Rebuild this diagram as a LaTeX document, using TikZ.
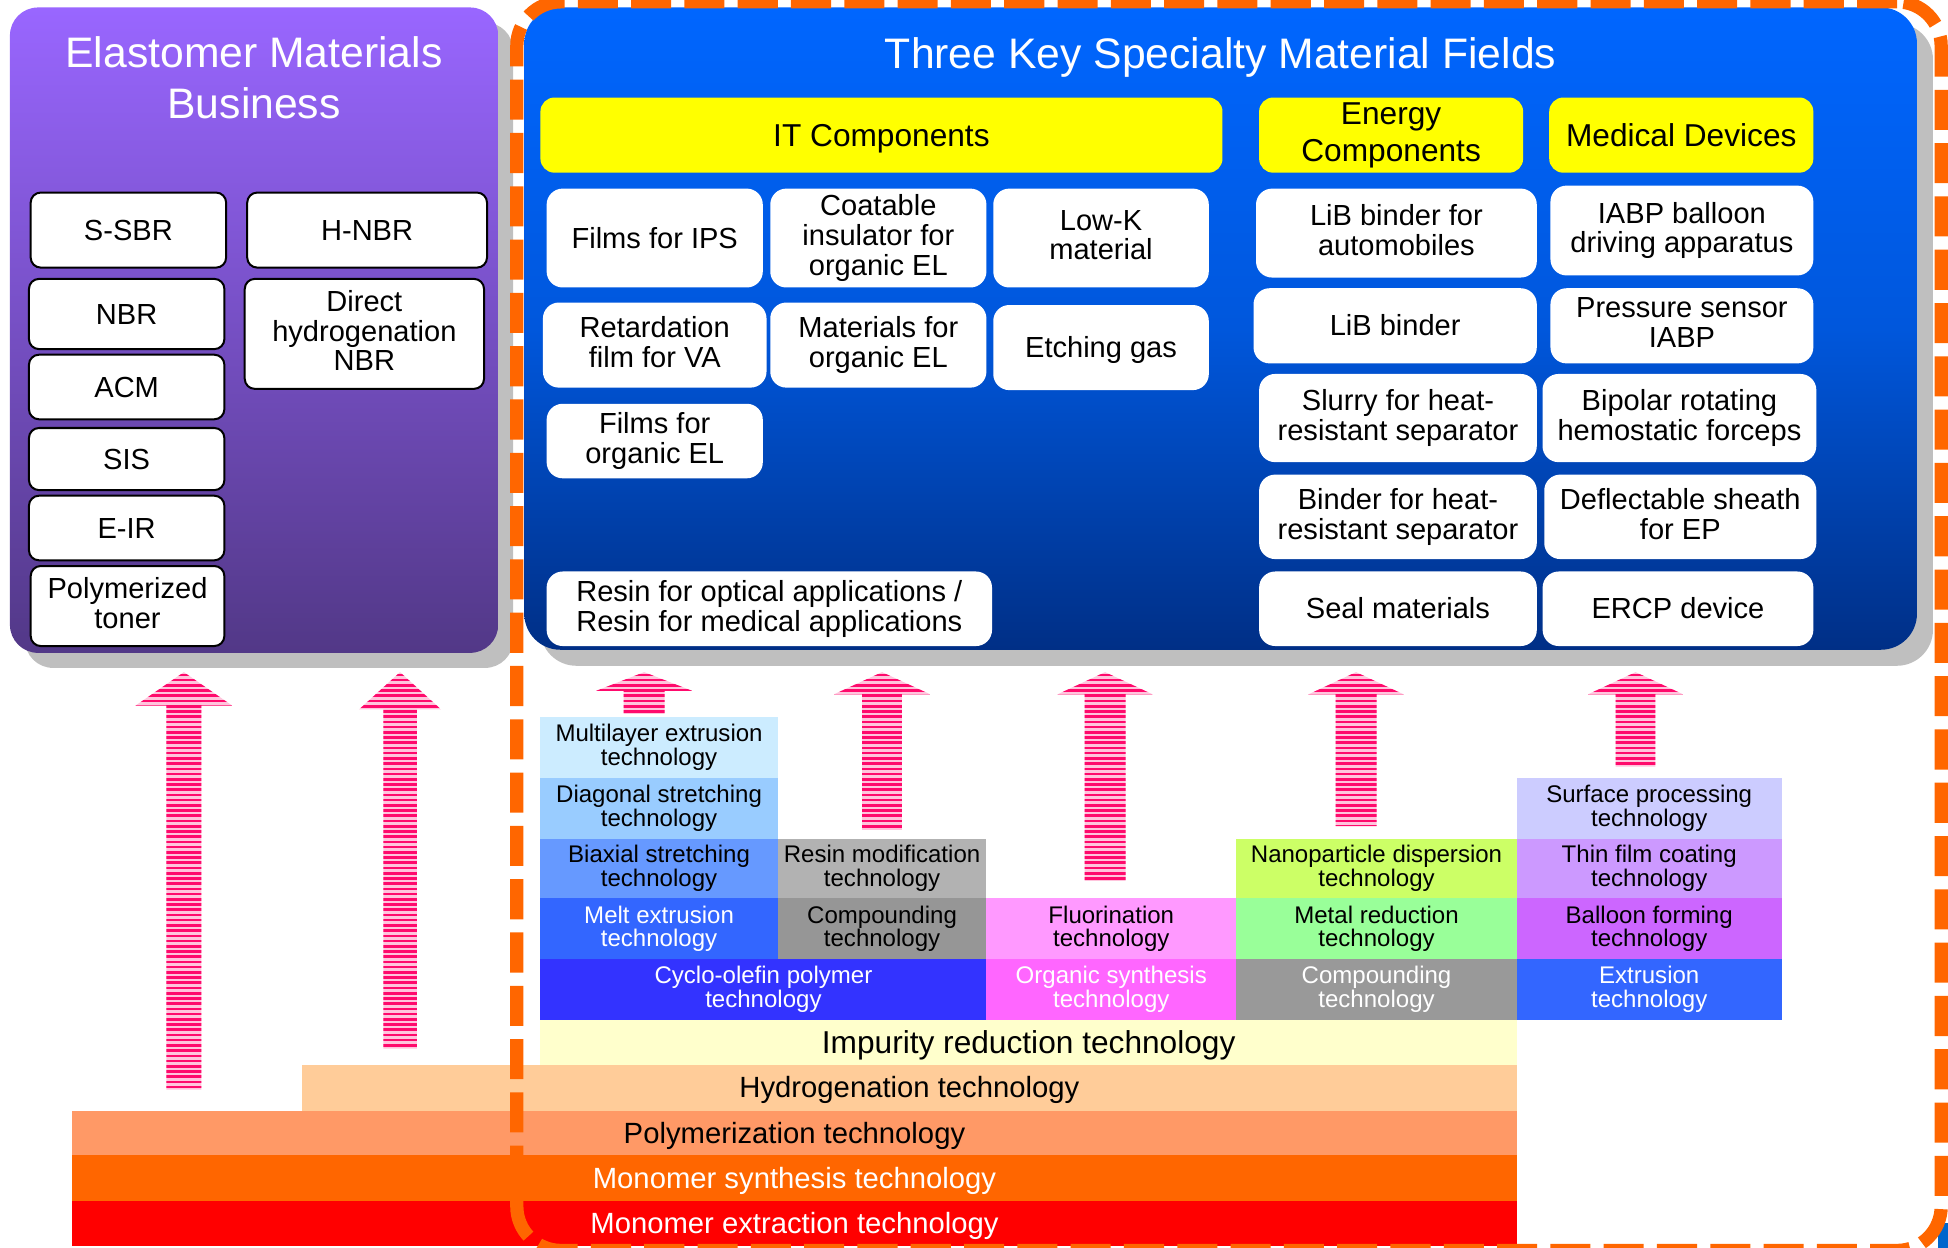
\documentclass[tikz,border=0pt]{standalone}
\usepackage{fontspec}
\setmainfont{Liberation Sans}
\usetikzlibrary{shadows}
\definecolor{purpTop}{HTML}{9966FF}
\definecolor{purpBot}{HTML}{523887}
\definecolor{blueTop}{HTML}{0066FF}
\definecolor{blueMid}{HTML}{0057DC}
\definecolor{blueBot}{HTML}{002F86}
\definecolor{shadowgray}{HTML}{BFBFBF}
\definecolor{hdrYellow}{HTML}{FFFF00}
\definecolor{arrowpink}{HTML}{FF0A6C}
\definecolor{arrowlight}{HTML}{FFC4DC}
\definecolor{frameOrange}{HTML}{FF6600}
\definecolor{cornerBlue}{HTML}{0066CC}
\definecolor{cMulti}{HTML}{CCECFF}
\definecolor{cDiag}{HTML}{99CCFF}
\definecolor{cBiax}{HTML}{6699FF}
\definecolor{cMelt}{HTML}{3366FF}
\definecolor{cCyclo}{HTML}{3333FF}
\definecolor{cResin}{HTML}{B2B2B2}
\definecolor{cCompA}{HTML}{969696}
\definecolor{cCompB}{HTML}{999999}
\definecolor{cFluor}{HTML}{FF99FF}
\definecolor{cOrgan}{HTML}{FF66FF}
\definecolor{cNano}{HTML}{CCFF66}
\definecolor{cMetal}{HTML}{99FF99}
\definecolor{cSurf}{HTML}{CCCCFF}
\definecolor{cThin}{HTML}{CC99FF}
\definecolor{cBalloon}{HTML}{CC66FF}
\definecolor{cExtru}{HTML}{3366FF}
\definecolor{cImpur}{HTML}{FFFFCC}
\definecolor{cHydro}{HTML}{FFCC99}
\definecolor{cPolym}{HTML}{FF9966}
\definecolor{cSynth}{HTML}{FF6600}
\definecolor{cExtra}{HTML}{FF0000}
% box by corners: name, x1, y1, x2, y2, style, text
\newcommand\bx[7]{\node[#6, minimum width={(#4-#2)*0.62pt}, minimum height={(#5-#3)*0.62pt}] (#1) at ({(#2+#4)/2},{(#3+#5)/2}) {#7};}
% fat striped arrow: cx, head half width, shaft half width, top, head base, bottom
\newcommand\fatarr[6]{%
  \begin{scope}
  \clip ({#1-#3},#6) -- ({#1-#3},#5) -- ({#1-#2},#5) -- (#1,#4) -- ({#1+#2},#5) -- ({#1+#3},#5) -- ({#1+#3},#6) -- cycle;
  \fill[arrowlight] ({#1-#2},#4) rectangle ({#1+#2},#6);
  \foreach \k [evaluate=\k as \yy using #4+1.2+4.2*\k] in {0,...,81}
    \fill[arrowpink] ({#1-#2},\yy) rectangle ({#1+#2},\yy+2.1);
  \end{scope}}
\tikzset{
  ppt/.style={execute at begin node={\rule{0pt}{0.905em}}, execute at end node={\rule[-0.212em]{0pt}{0.212em}}},
  ml/.style={execute at begin node={\rule{0pt}{\dimexpr 0.905em+#1\relax}}},
  ml/.default=2.2pt,
  container/.style={inner sep=0pt},
  wbox/.style={ppt, fill=white, rounded corners=8pt, inner sep=0pt, align=center, font=\fontsize{14.5}{14.8}\selectfont},
  pbox/.style={ppt, fill=white, draw=black, line width=1pt, rounded corners=5pt, inner sep=0pt, align=center, font=\fontsize{14.5}{14.8}\selectfont},
  yhead/.style={ppt, fill=hdrYellow, rounded corners=7pt, inner sep=0pt, align=center, font=\fontsize{15.8}{18.4}\selectfont},
  tech/.style={ppt, ml=1.2pt, inner sep=0pt, align=center, font=\fontsize{12}{11.8}\selectfont},
  base/.style={ppt, inner sep=0pt, align=center, font=\fontsize{14.6}{15}\selectfont},
  bigtitle/.style={ppt, text=white, align=center, inner sep=0pt, font=\fontsize{21.3}{25.4}\selectfont},
}
\begin{document}
\begin{tikzpicture}[x=0.62pt,y=-0.62pt]
\useasboundingbox (0,0) rectangle (1568,1004.5);

% containers
\bx{elast}{8}{6}{401}{525.5}{container, rounded corners=14pt, top color=purpTop, bottom color=purpBot, drop shadow={shadow xshift=7.5pt, shadow yshift=-7.5pt, fill=shadowgray, opacity=1}}{}
\node[bigtitle] (elastT) at (204.5,66) {Elastomer Materials\\Business};

\bx{spec}{422}{6}{1543}{523}{container, rounded corners=18pt, top color=blueTop, bottom color=blueBot, middle color=blueMid, drop shadow={shadow xshift=8pt, shadow yshift=-8pt, fill=shadowgray, opacity=1}}{}
\node[bigtitle] (specT) at (982.5,43.6) {Three Key Specialty Material Fields};

% elastomer boxes
\bx{ssbr}{24.7}{155}{182}{215.4}{pbox}{S-SBR}
\bx{hnbr}{199}{155}{392}{215.4}{pbox}{H-NBR}
\bx{nbr}{23.3}{224.5}{180.6}{281}{pbox}{NBR}
\bx{dnbr}{197}{224.5}{389.6}{313}{pbox, ml}{Direct\\hydrogenation\\NBR}
\bx{acm}{23.3}{285.5}{180.6}{337.5}{pbox}{ACM}
\bx{sis}{23.3}{344.5}{180.6}{394.5}{pbox}{SIS}
\bx{eir}{23.3}{399}{180.6}{451}{pbox}{E-IR}
\bx{toner}{24.7}{455.6}{180.6}{520}{pbox, ml}{Polymerized\\toner}

% headers
\bx{hIT}{435}{78.5}{984}{139}{yhead}{IT Components}
\bx{hEn}{1013.5}{78.5}{1226}{139}{yhead, ml=3.6pt}{Energy\\Components}
\bx{hMed}{1247}{78.5}{1459.6}{139}{yhead}{Medical Devices}

% IT boxes
\bx{ips}{440}{151.8}{614}{231.4}{wbox}{Films for IPS}
\bx{coat}{620}{151.8}{794}{231.4}{wbox, ml}{Coatable\\insulator for\\organic EL}
\bx{lowk}{799.5}{151.8}{973}{231.4}{wbox, ml}{Low-K\\material}
\bx{retard}{437}{243.5}{617}{312}{wbox, ml}{Retardation\\film for VA}
\bx{matel}{620}{243.5}{794}{312}{wbox, ml}{Materials for\\organic EL}
\bx{etch}{799.5}{245.5}{973}{314}{wbox}{Etching gas}
\bx{filmel}{440}{325}{614}{385}{wbox, ml}{Films for\\organic EL}
\bx{resin}{440}{460}{798.5}{520}{wbox, ml}{Resin for optical applications /\\Resin for medical applications}

% energy boxes
\bx{libauto}{1011}{151.8}{1237}{223.4}{wbox, ml}{LiB binder for\\automobiles}
\bx{lib}{1009}{232}{1237}{292.5}{wbox}{LiB binder}
\bx{slurry}{1013.5}{301}{1237}{372}{wbox, ml}{Slurry for heat-\\resistant separator}
\bx{binder}{1013.5}{382}{1237}{450}{wbox, ml}{Binder for heat-\\resistant separator}
\bx{seal}{1013.5}{460}{1237}{520}{wbox}{Seal materials}

% medical boxes
\bx{iabp}{1248}{149.4}{1459.6}{221.7}{wbox, ml}{IABP balloon\\driving apparatus}
\bx{press}{1248}{232}{1459.6}{292.5}{wbox, ml}{Pressure sensor\\IABP}
\bx{bipolar}{1241.6}{301}{1462}{372}{wbox, ml}{Bipolar rotating\\hemostatic forceps}
\bx{deflect}{1243}{382}{1462}{450}{wbox, ml}{Deflectable sheath\\for EP}
\bx{ercp}{1241.7}{460}{1459.6}{520}{wbox}{ERCP device}

% technology stack
\bx{tMulti}{435}{577}{626}{626}{tech, fill=cMulti}{Multilayer extrusion\\technology}
\bx{tDiag}{435}{626}{626}{675}{tech, fill=cDiag}{Diagonal stretching\\technology}
\bx{tBiax}{435}{675}{626}{723}{tech, fill=cBiax}{Biaxial stretching\\technology}
\bx{tMelt}{435}{723}{626}{772}{tech, fill=cMelt, text=white}{Melt extrusion\\technology}
\bx{tCyclo}{435}{772}{794}{821}{tech, fill=cCyclo, text=white}{Cyclo-olefin polymer\\technology}
\bx{tResin}{626}{675}{794}{723}{tech, fill=cResin}{Resin modification\\technology}
\bx{tCompA}{626}{723}{794}{772}{tech, fill=cCompA}{Compounding\\technology}
\bx{tFluor}{794}{723}{995}{772}{tech, fill=cFluor}{Fluorination\\technology}
\bx{tOrgan}{794}{772}{995}{821}{tech, fill=cOrgan, text=white}{Organic synthesis\\technology}
\bx{tNano}{995}{675}{1221}{723}{tech, fill=cNano}{Nanoparticle dispersion\\technology}
\bx{tMetal}{995}{723}{1221}{772}{tech, fill=cMetal}{Metal reduction\\technology}
\bx{tCompB}{995}{772}{1221}{821}{tech, fill=cCompB, text=white}{Compounding\\technology}
\bx{tSurf}{1221}{626}{1434}{675}{tech, fill=cSurf}{Surface processing\\technology}
\bx{tThin}{1221}{675}{1434}{723}{tech, fill=cThin}{Thin film coating\\technology}
\bx{tBalloon}{1221}{723}{1434}{772}{tech, fill=cBalloon}{Balloon forming\\technology}
\bx{tExtru}{1221}{772}{1434}{821}{tech, fill=cExtru, text=white}{Extrusion\\technology}
\bx{tImpur}{435}{821}{1221}{857}{base, fill=cImpur, font=\fontsize{15.8}{16}\selectfont}{Impurity reduction technology}
\bx{tHydro}{243}{857}{1221}{894}{base, fill=cHydro}{Hydrogenation technology}
\bx{tPolym}{58}{894}{1221}{930}{base, fill=cPolym}{Polymerization technology}
\bx{tSynth}{58}{930}{1221}{967}{base, fill=cSynth, text=white}{Monomer synthesis technology}
\bx{tExtra}{58}{967}{1221}{1003}{base, fill=cExtra, text=white}{Monomer extraction technology}

% striped arrows
\fatarr{148}{39}{14}{541}{568}{877}
\fatarr{322}{33}{13.5}{541}{571}{844}
\fatarr{518.5}{38.5}{16.5}{541}{556}{575}
\fatarr{710}{39}{16}{541}{559}{668}
\fatarr{889.5}{38.5}{16.5}{541}{559}{709}
\fatarr{1091.5}{38.5}{16.5}{541}{559}{665}
\fatarr{1316.5}{38.5}{16}{541}{559}{617}

% small blue patch at the lower right corner
\bx{bluepatch}{1560}{984.5}{1568}{1005}{fill=cornerBlue, inner sep=0pt}{}

% orange dashed frame
\bx{frame}{416}{1.5}{1562.5}{1006.5}{draw=frameOrange, line width=6.6pt, dash pattern=on 20pt off 6.6pt, rounded corners=22pt, inner sep=0pt}{}
\end{tikzpicture}
\end{document}
